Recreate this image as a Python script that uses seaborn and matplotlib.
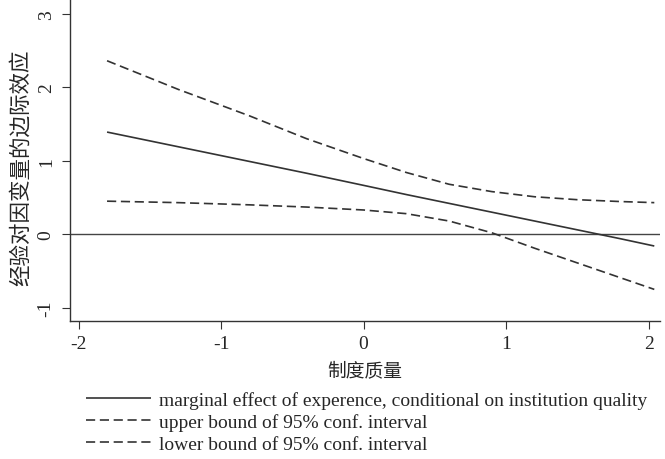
import numpy as np
import pandas as pd
import seaborn as sns
import matplotlib
matplotlib.use("Agg")
import matplotlib.pyplot as plt

# values (institution quality on x)
z = [-1.8, -1.3, -0.8, -0.4, 0.0, 0.3, 0.6, 0.9, 1.2, 1.5, 1.8, 2.04]
effect = [1.39, 1.19, 0.99, 0.83, 0.665, 0.54, 0.42, 0.30, 0.18, 0.06, -0.06, -0.16]
upper = [2.36, 1.97, 1.61, 1.30, 1.03, 0.84, 0.68, 0.58, 0.51, 0.47, 0.445, 0.43]
lower = [0.45, 0.43, 0.40, 0.37, 0.33, 0.28, 0.18, 0.02, -0.19, -0.39, -0.59, -0.75]

labels = ["marginal effect of experence, conditional on institution quality",
          "upper bound of 95% conf. interval",
          "lower bound of 95% conf. interval"]
xticks = [-2, -1, 0, 1, 2]
yticks = [-1, 0, 1, 2, 3]

sns.set_style("ticks")
plt.rcParams['font.family'] = ['Liberation Serif', 'Noto Sans CJK SC']
plt.rcParams['axes.unicode_minus'] = False

df = pd.DataFrame({"z": z * 3,
                   "v": effect + upper + lower,
                   "s": [labels[0]] * len(z) + [labels[1]] * len(z) + [labels[2]] * len(z)})

fig = plt.figure(figsize=(6.65, 4.6), dpi=100)
ax = fig.add_axes([70 / 665, 1 - 322 / 460, 590 / 665, 322 / 460])

ax.axhline(0, color="#444444", lw=1.0, zorder=1)
sns.lineplot(data=df, x="z", y="v", hue="s", style="s",
             palette=["#333333"] * 3,
             dashes=[(1, 0), (5.5, 2.8), (5.5, 2.8)], linewidth=1.2, ax=ax)

ax.set_xlim(-2.06, 2.08)
ax.set_ylim(-1.18, 3.2)
ax.set_xticks(xticks)
ax.set_yticks(yticks)
ax.tick_params(labelsize=14, color="#333333", length=6, width=0.8, pad=4)
ax.tick_params(axis="y", pad=5)
plt.setp(ax.get_yticklabels(), rotation=90, va="center")
for s in ["top", "right"]:
    ax.spines[s].set_visible(False)
for s in ["left", "bottom"]:
    ax.spines[s].set_color("#333333")
    ax.spines[s].set_linewidth(1.0)

ax.set_xlabel("制度质量", fontsize=13.5, labelpad=7)
ax.set_ylabel("经验对因变量的边际效应", fontsize=15.5)
ax.yaxis.set_label_coords(-0.064, 0.48)

leg = ax.legend(loc="upper left", bbox_to_anchor=(86 / 665, 1 - 392 / 460),
                bbox_transform=fig.transFigure, frameon=False, fontsize=14,
                handlelength=3.35, handletextpad=0.42, labelspacing=0.22,
                borderaxespad=0, borderpad=0)
for line in leg.get_lines():
    line.set_linewidth(1.2)

fig.savefig("out.png", dpi=100)
